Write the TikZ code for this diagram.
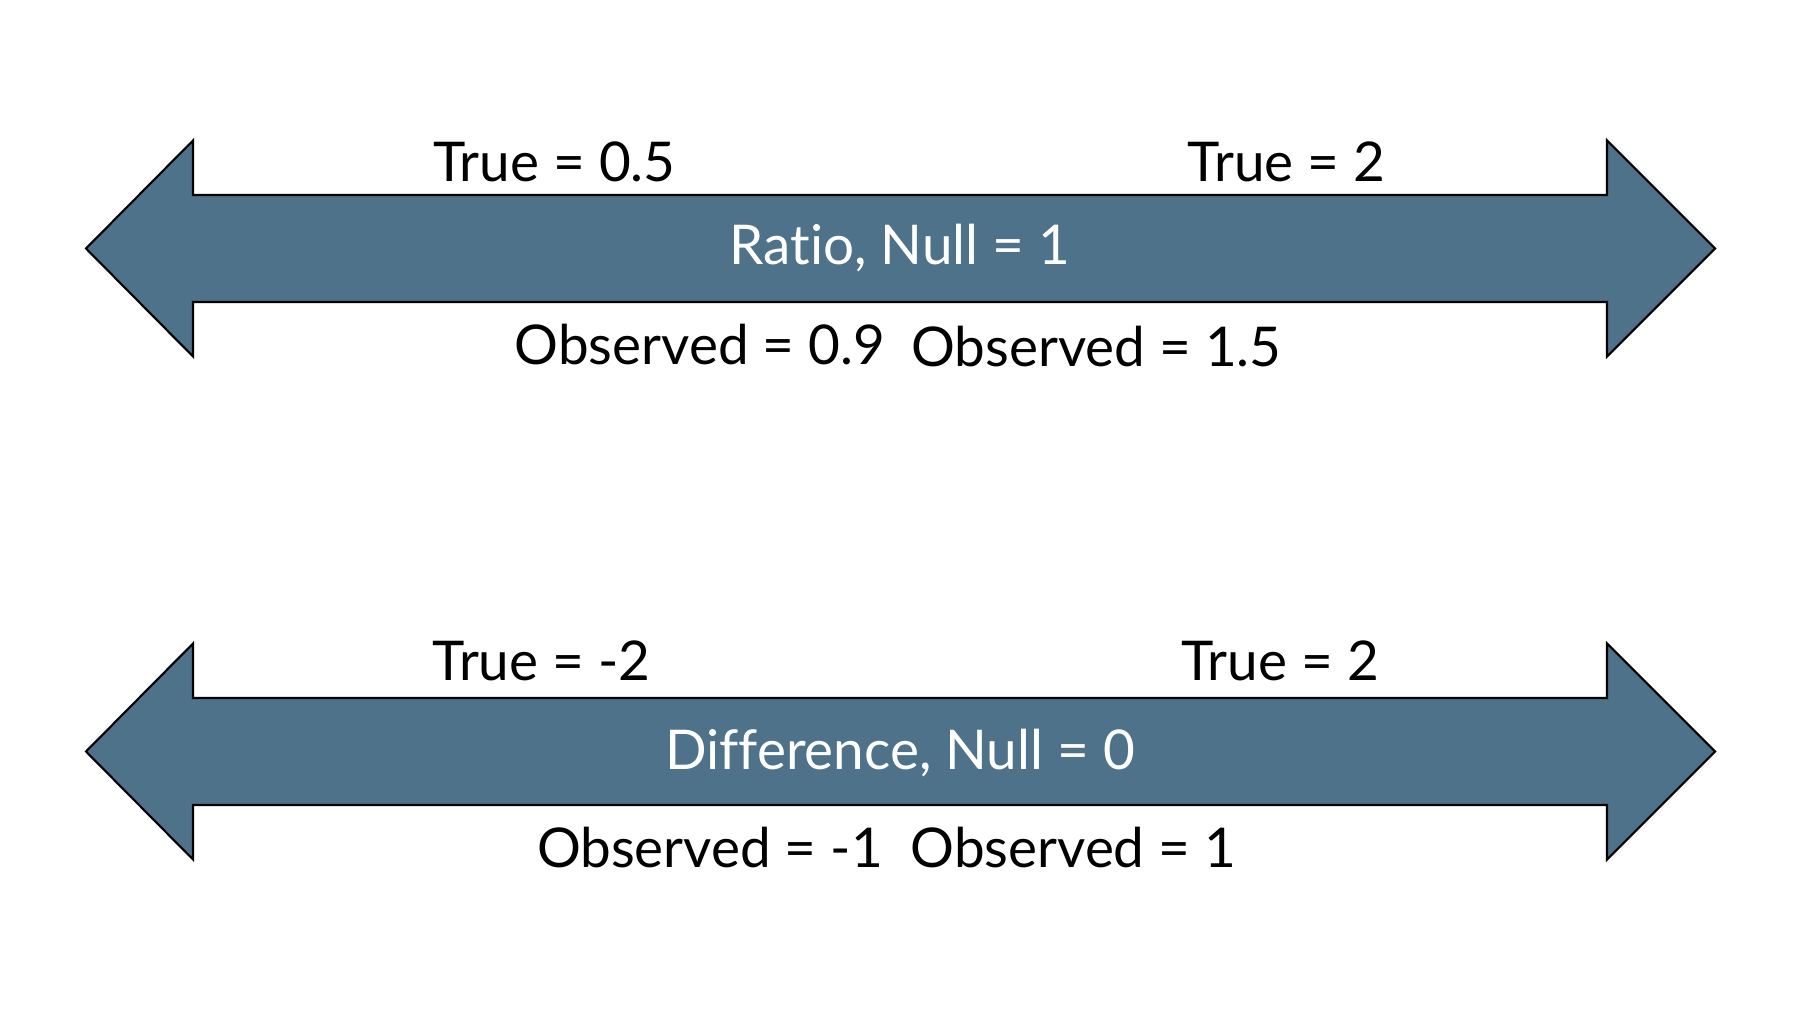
\documentclass[tikz,border=0pt]{standalone}
\usepackage{fontspec}
\setmainfont{Lato}[Ligatures=NoCommon]
\usepackage{tikz}

\definecolor{azulseta}{RGB}{78,114,138}

\tikzset{
  seta/.style={draw=black, fill=azulseta, line width=0.6pt, line join=miter},
  rotulo/.style={anchor=base, inner sep=0pt, font=\fontsize{15.6}{18}\selectfont},
  rotulobranco/.style={rotulo, text=white}
}

\begin{document}
\begin{tikzpicture}
    \useasboundingbox (0,0) rectangle (18.01,10.13);

    % Setas duplas
    \foreach \y in {7.645, 2.615}
        \draw[seta, shift={(0,\y)}] (0.86,0) -- (1.93,1.08) -- (1.93,0.535) -- (16.07,0.535)
            -- (16.07,1.08) -- (17.15,0) -- (16.07,-1.08) -- (16.07,-0.535)
            -- (1.93,-0.535) -- (1.93,-1.08) -- cycle;

    % Escala de razao
    \node[rotulobranco] (razao) at (9.00,7.48) {Ratio, Null = 1};
    \node[rotulo] (verdRazaoA) at (5.545,8.31) {True = 0.5};
    \node[rotulo] (verdRazaoB) at (12.865,8.31) {True = 2};
    \node[rotulo] (obsRazaoA) at (7.00,6.48) {Observed = 0.9};
    \node[rotulo] (obsRazaoB) at (10.965,6.46) {Observed = 1.5};

    % Escala de diferenca
    \node[rotulobranco] (diferenca) at (9.00,2.43) {Difference, Null = 0};
    \node[rotulo] (verdDifA) at (5.415,3.32) {True = -2};
    \node[rotulo] (verdDifB) at (12.80,3.32) {True = 2};
    \node[rotulo] (obsDifA) at (7.10,1.45) {Observed = -1};
    \node[rotulo] (obsDifB) at (10.735,1.45) {Observed = 1};
\end{tikzpicture}
\end{document}
